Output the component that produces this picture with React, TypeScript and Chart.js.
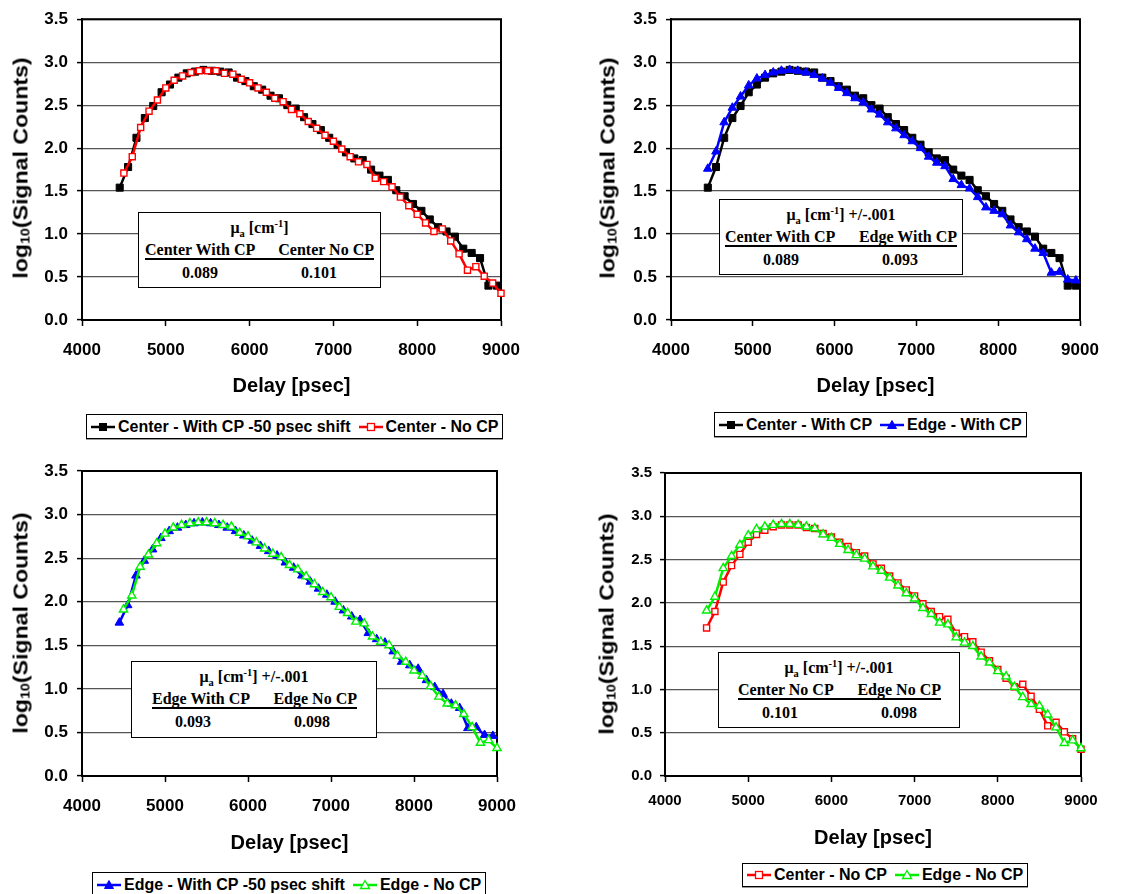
import React, { useEffect, useRef } from 'react';
import { Chart, registerables } from 'chart.js';

Chart.register(...registerables);

// ---- Data ----
const delayWithCP = [4450, 4550, 4650, 4750, 4850, 4950, 5050, 5150, 5250, 5350, 5450, 5550, 5650, 5750, 5850, 5950, 6050, 6150, 6250, 6350, 6450, 6550, 6650, 6750, 6850, 6950, 7050, 7150, 7250, 7350, 7450, 7550, 7650, 7750, 7850, 7950, 8050, 8150, 8250, 8350, 8450, 8550, 8650, 8750, 8850, 8950];
const delayNoCP = [4500, 4600, 4700, 4800, 4900, 5000, 5100, 5200, 5300, 5400, 5500, 5600, 5700, 5800, 5900, 6000, 6100, 6200, 6300, 6400, 6500, 6600, 6700, 6800, 6900, 7000, 7100, 7200, 7300, 7400, 7500, 7600, 7700, 7800, 7900, 8000, 8100, 8200, 8300, 8400, 8500, 8600, 8700, 8800, 8900, 9000];

const centerWithCP = [1.54, 1.78, 2.12, 2.35, 2.49, 2.65, 2.74, 2.82, 2.87, 2.89, 2.91, 2.90, 2.89, 2.88, 2.82, 2.78, 2.72, 2.68, 2.61, 2.58, 2.50, 2.46, 2.36, 2.28, 2.21, 2.12, 2.04, 1.95, 1.88, 1.86, 1.75, 1.68, 1.63, 1.51, 1.44, 1.35, 1.27, 1.17, 1.08, 1.03, 0.97, 0.83, 0.78, 0.72, 0.40, 0.40];
const centerNoCP = [1.71, 1.90, 2.24, 2.43, 2.56, 2.70, 2.79, 2.84, 2.88, 2.90, 2.90, 2.90, 2.87, 2.86, 2.80, 2.76, 2.70, 2.65, 2.58, 2.54, 2.45, 2.40, 2.31, 2.23, 2.15, 2.08, 1.99, 1.90, 1.84, 1.81, 1.65, 1.61, 1.55, 1.43, 1.33, 1.23, 1.13, 1.03, 1.06, 0.92, 0.77, 0.58, 0.62, 0.51, 0.43, 0.31];
const edgeWithCP = [1.76, 1.96, 2.30, 2.47, 2.60, 2.73, 2.81, 2.85, 2.88, 2.90, 2.91, 2.90, 2.88, 2.85, 2.81, 2.76, 2.70, 2.64, 2.58, 2.53, 2.45, 2.39, 2.30, 2.23, 2.15, 2.08, 2.00, 1.90, 1.83, 1.79, 1.64, 1.57, 1.53, 1.43, 1.31, 1.27, 1.23, 1.10, 1.02, 0.94, 0.83, 0.78, 0.55, 0.56, 0.47, 0.46];
const edgeNoCP = [1.91, 2.07, 2.40, 2.54, 2.67, 2.78, 2.85, 2.88, 2.90, 2.91, 2.91, 2.90, 2.88, 2.86, 2.79, 2.75, 2.68, 2.61, 2.55, 2.51, 2.42, 2.37, 2.29, 2.20, 2.11, 2.05, 1.94, 1.87, 1.77, 1.75, 1.60, 1.54, 1.50, 1.38, 1.31, 1.21, 1.15, 1.03, 0.91, 0.83, 0.81, 0.71, 0.56, 0.38, 0.41, 0.32];

const xTickValues = [4000, 5000, 6000, 7000, 8000, 9000];
const yTickValues = [0, 0.5, 1.0, 1.5, 2.0, 2.5, 3.0, 3.5];

const xTitle = 'Delay [psec]';

// ---- Series styles ----
type SeriesKey = 'cw' | 'cn' | 'ew' | 'en';
const seriesDefs: Record<SeriesKey, { x: number[]; y: number[]; color: string; shape: 'rect' | 'triangle'; filled: boolean }> = {
  cw: { x: delayWithCP, y: centerWithCP, color: '#000000', shape: 'rect', filled: true },
  cn: { x: delayNoCP, y: centerNoCP, color: '#ff0000', shape: 'rect', filled: false },
  ew: { x: delayWithCP, y: edgeWithCP, color: '#0000ff', shape: 'triangle', filled: true },
  en: { x: delayNoCP, y: edgeNoCP, color: '#00ee00', shape: 'triangle', filled: false },
};

type PanelCfg = {
  cx: number; cy: number; cw: number; ch: number;
  padTop: number; padRight: number; yW: number; xH: number;
  tickSize: number; xTickPad: number; yTickPad: number;
  series: [SeriesKey, SeriesKey];
  names: [string, string];
  yTitleX: number; yTitleY: number;
  legend: { left: number; top: number; h: number };
  box: { left: number; top: number; w: number; h: number; extra: string; labels: [string, string]; values: [string, string]; ul: number; ur: number };
};

const panels: PanelCfg[] = [
  {
    cx: 0, cy: 0, cw: 545, ch: 402, padTop: 16, padRight: 44, yW: 82, xH: 82,
    tickSize: 17, xTickPad: 14, yTickPad: 9,
    series: ['cw', 'cn'], names: ['Center - With CP -50 psec shift', 'Center - No CP'],
    yTitleX: 20, yTitleY: 168,
    legend: { left: 86, top: 414, h: 25 },
    box: { left: 138, top: 212, w: 243, h: 76, extra: '', labels: ['Center With CP', 'Center No CP'], values: ['0.089', '0.101'], ul: 7, ur: 236 },
  },
  {
    cx: 580, cy: 0, cw: 559, ch: 402, padTop: 16, padRight: 59, yW: 91, xH: 82,
    tickSize: 17, xTickPad: 14, yTickPad: 9,
    series: ['cw', 'ew'], names: ['Center - With CP', 'Edge - With CP'],
    yTitleX: 607, yTitleY: 168,
    legend: { left: 714, top: 412, h: 25 },
    box: { left: 719, top: 199, w: 244, h: 76, extra: ' +/-.001', labels: ['Center With CP', 'Edge With CP'], values: ['0.089', '0.093'], ul: 6, ur: 238 },
  },
  {
    cx: 0, cy: 450, cw: 545, ch: 409, padTop: 21, padRight: 48, yW: 82, xH: 83,
    tickSize: 17, xTickPad: 14, yTickPad: 9,
    series: ['ew', 'en'], names: ['Edge - With CP -50 psec shift', 'Edge - No CP'],
    yTitleX: 20, yTitleY: 623,
    legend: { left: 92, top: 872, h: 25 },
    box: { left: 131, top: 661, w: 246, h: 77, extra: ' +/-.001', labels: ['Edge With CP', 'Edge No CP'], values: ['0.093', '0.098'], ul: 21, ur: 226 },
  },
  {
    cx: 580, cy: 450, cw: 559, ch: 404, padTop: 23, padRight: 58, yW: 85, xH: 78,
    tickSize: 15, xTickPad: 10, yTickPad: 8,
    series: ['cn', 'en'], names: ['Center - No CP', 'Edge - No CP'],
    yTitleX: 606, yTitleY: 624,
    legend: { left: 742, top: 863, h: 24 },
    box: { left: 718, top: 652, w: 242, h: 76, extra: ' +/-.001', labels: ['Center No CP', 'Edge No CP'], values: ['0.101', '0.098'], ul: 20, ur: 223 },
  },
];

const frameBorder = {
  id: 'frameBorder',
  beforeDatasetsDraw(chart: any) {
    const { ctx, chartArea } = chart;
    ctx.save();
    ctx.strokeStyle = '#000';
    ctx.lineWidth = 2;
    ctx.strokeRect(chartArea.left, chartArea.top, chartArea.right - chartArea.left, chartArea.bottom - chartArea.top);
    ctx.restore();
  },
};

function makeDataset(key: SeriesKey, order: number) {
  const s = seriesDefs[key];
  const isRect = s.shape === 'rect';
  return {
    data: s.x.map((x, i) => ({ x, y: s.y[i] })),
    borderColor: s.color,
    backgroundColor: s.color,
    borderWidth: 2.5,
    tension: 0,
    pointStyle: s.shape,
    pointRadius: isRect ? (s.filled ? 5 : 4.3) : (s.filled ? 5 : 4.8),
    pointBackgroundColor: s.filled ? s.color : '#ffffff',
    pointBorderColor: s.color,
    pointBorderWidth: s.filled ? 1 : 1.4,
    clip: false as const,
    order,
  };
}

function ChartPanel({ cfg }: { cfg: PanelCfg }) {
  const ref = useRef<HTMLCanvasElement>(null);
  useEffect(() => {
    const font = (size: number) => ({ family: '"Liberation Sans", Arial, sans-serif', size, weight: 'bold' as const });
    const chart = new Chart(ref.current as HTMLCanvasElement, {
      type: 'line',
      data: {
        datasets: [makeDataset(cfg.series[0], 1), makeDataset(cfg.series[1], 0)] as any,
      },
      options: {
        animation: false,
        responsive: false,
        maintainAspectRatio: false,
        layout: { padding: { left: 0, top: cfg.padTop, right: cfg.padRight, bottom: 0 } },
        plugins: { legend: { display: false }, tooltip: { enabled: false } },
        scales: {
          x: {
            type: 'linear',
            min: xTickValues[0],
            max: xTickValues[xTickValues.length - 1],
            afterBuildTicks: (s: any) => { s.ticks = xTickValues.map((v) => ({ value: v })); },
            ticks: { font: font(cfg.tickSize), color: '#000', padding: cfg.xTickPad, maxRotation: 0, autoSkip: false, callback: (v: any) => String(v) },
            grid: { drawOnChartArea: false, drawTicks: true, tickLength: 6, tickColor: '#000', tickWidth: 1.5 },
            border: { color: '#000', width: 2 },
            title: { display: true, text: xTitle, font: font(20), color: '#000', padding: { top: 0, bottom: 4 } },
            afterFit: (s: any) => { s.height = cfg.xH; },
          },
          y: {
            type: 'linear',
            min: yTickValues[0],
            max: yTickValues[yTickValues.length - 1],
            afterBuildTicks: (s: any) => { s.ticks = yTickValues.map((v) => ({ value: v })); },
            ticks: { font: font(cfg.tickSize), color: '#000', padding: cfg.yTickPad, callback: (v: any) => Number(v).toFixed(1) },
            grid: { color: '#555555', lineWidth: 1.2, drawTicks: true, tickLength: 5, tickColor: '#000', tickWidth: 1.5 },
            border: { color: '#000', width: 2 },
            afterFit: (s: any) => { s.width = cfg.yW; },
          },
        },
      },
      plugins: [frameBorder],
    } as any);
    return () => chart.destroy();
  }, [cfg]);

  const b = cfg.box;
  return (
    <>
      <canvas
        ref={ref}
        width={cfg.cw}
        height={cfg.ch}
        style={{ position: 'absolute', left: cfg.cx, top: cfg.cy, width: cfg.cw, height: cfg.ch }}
      />
      <div
        style={{
          position: 'absolute', left: cfg.yTitleX, top: cfg.yTitleY,
          transform: 'translate(-50%, -50%) rotate(-90deg) scaleX(1.1)',
          whiteSpace: 'nowrap', fontWeight: 'bold', fontSize: 21, lineHeight: 1, color: '#000',
        }}
      >
        log<sub style={{ fontSize: '0.62em', verticalAlign: '-0.12em', lineHeight: 0 }}>10</sub>(Signal Counts)
      </div>
      <div
        style={{
          position: 'absolute', left: b.left, top: b.top, width: b.w, height: b.h,
          border: '1.5px solid #000', background: '#fff', boxSizing: 'border-box',
          fontFamily: '"Liberation Serif", "Times New Roman", serif', fontWeight: 'bold', fontSize: 16, color: '#000',
        }}
      >
        <div style={{ position: 'absolute', left: 0, right: 0, top: 6, textAlign: 'center', lineHeight: '18px', whiteSpace: 'nowrap' }}>
          μ<sub style={{ fontSize: '0.65em', lineHeight: 0 }}>a</sub> [cm<sup style={{ fontSize: '0.65em', lineHeight: 0 }}>-1</sup>]{b.extra}
        </div>
        <div
          style={{
            position: 'absolute', left: b.ul - 1, width: b.ur - b.ul, top: 28, height: 17,
            display: 'flex', justifyContent: 'space-between', borderBottom: '2px solid #000',
            lineHeight: '18px', whiteSpace: 'nowrap',
          }}
        >
          <span>{b.labels[0]}</span>
          <span>{b.labels[1]}</span>
        </div>
        <span style={{ position: 'absolute', left: 61, top: 51, transform: 'translateX(-50%)', lineHeight: '18px' }}>{b.values[0]}</span>
        <span style={{ position: 'absolute', left: 180, top: 51, transform: 'translateX(-50%)', lineHeight: '18px' }}>{b.values[1]}</span>
      </div>
      <div
        style={{
          position: 'absolute', left: cfg.legend.left, top: cfg.legend.top, height: cfg.legend.h,
          display: 'flex', alignItems: 'center', padding: '0 4px', boxSizing: 'border-box',
          border: '1px solid #000', boxShadow: '0 1px 0 #999', background: '#fff',
          fontWeight: 'bold', fontSize: 16, whiteSpace: 'nowrap', color: '#000',
        }}
      >
        {cfg.series.map((k, i) => {
          const s = seriesDefs[k];
          return (
            <React.Fragment key={k}>
              <svg width={24} height={12} style={{ marginRight: 3, flex: 'none' }}>
                <line x1={0} y1={6} x2={24} y2={6} stroke={s.color} strokeWidth={2.5} />
                {s.shape === 'rect' ? (
                  <rect x={8.5} y={2.5} width={7} height={7} fill={s.filled ? s.color : '#fff'} stroke={s.color} strokeWidth={s.filled ? 1 : 1.3} />
                ) : (
                  <polygon points="12,1.5 16.5,9.5 7.5,9.5" fill={s.filled ? s.color : '#fff'} stroke={s.color} strokeWidth={s.filled ? 1 : 1.3} />
                )}
              </svg>
              <span style={{ marginRight: i === 0 ? 8 : 0 }}>{cfg.names[i]}</span>
            </React.Fragment>
          );
        })}
      </div>
    </>
  );
}

export default function App() {
  return (
    <div
      style={{
        position: 'absolute', left: 0, top: 0, width: 1139, height: 894, overflow: 'hidden',
        background: '#fff', fontFamily: '"Liberation Sans", Arial, sans-serif',
      }}
    >
      {panels.map((p, i) => (
        <ChartPanel key={i} cfg={p} />
      ))}
    </div>
  );
}
